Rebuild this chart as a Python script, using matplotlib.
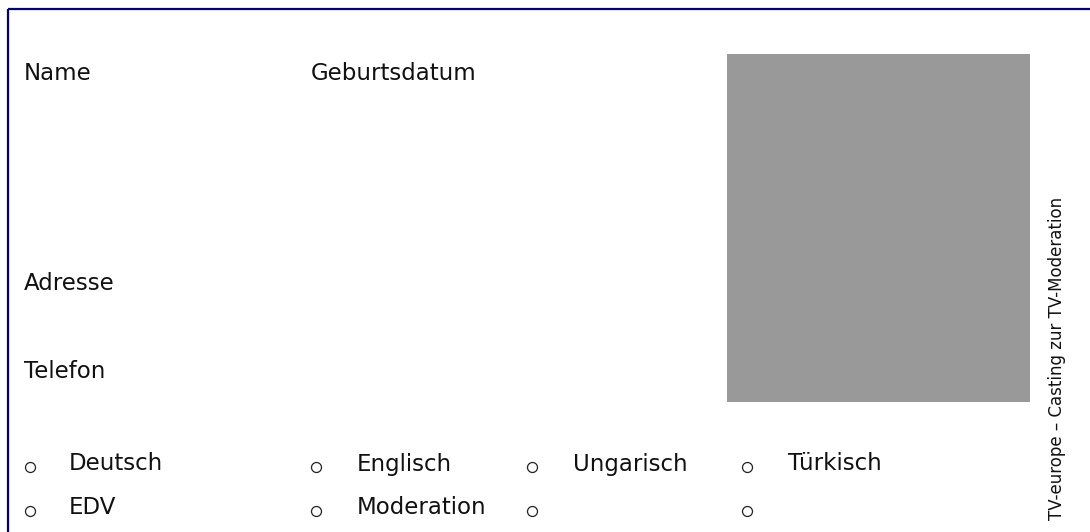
import matplotlib
matplotlib.use("Agg")
import matplotlib.pyplot as plt
from matplotlib.patches import Rectangle

# form contents
field_labels = ["Name", "Geburtsdatum", "Adresse", "Telefon"]
field_x = [24, 311, 24, 24]
field_y = [73, 73, 283, 372]

options_row1 = ["Deutsch", "Englisch", "Ungarisch", "Türkisch"]
options_row2 = ["EDV", "Moderation", "", ""]
bullet_x = [30, 316, 532, 747]
text_x = [69, 357, 573, 788]
row_y = [464, 508]

side_title = "TV-europe – Casting zur TV-Moderation"

W, H = 1090, 532
fig = plt.figure(figsize=(W / 100, H / 100), dpi=100)
ax = fig.add_axes([0, 0, 1, 1])
ax.set_xlim(0, W)
ax.set_ylim(H, 0)
ax.axis("off")

# frame: top and left navy lines
ax.plot([8, W], [9, 9], color="#000080", lw=1.6, solid_capstyle="butt")
ax.plot([8, 8], [9, H], color="#000080", lw=1.6, solid_capstyle="butt")

# photo placeholder
ax.add_patch(Rectangle((727, 54), 303, 348, facecolor="#999999", edgecolor="none"))

fs = 16.5
for lbl, x, y in zip(field_labels, field_x, field_y):
    ax.text(x, y, lbl, fontsize=fs, ha="left", va="center", color="#111111")

for row, y in zip([options_row1, options_row2], row_y):
    for lbl, bx, tx in zip(row, bullet_x, text_x):
        ax.plot(bx, y + 3, marker="o", ms=7.2, mfc="white", mec="#222222", mew=0.9)
        if lbl:
            ax.text(tx, y, lbl, fontsize=fs, ha="left", va="center", color="#111111")

ax.text(1057, 358, side_title, fontsize=12, rotation=90, ha="center", va="center",
        color="#111111")

fig.savefig("out.png", dpi=100)
